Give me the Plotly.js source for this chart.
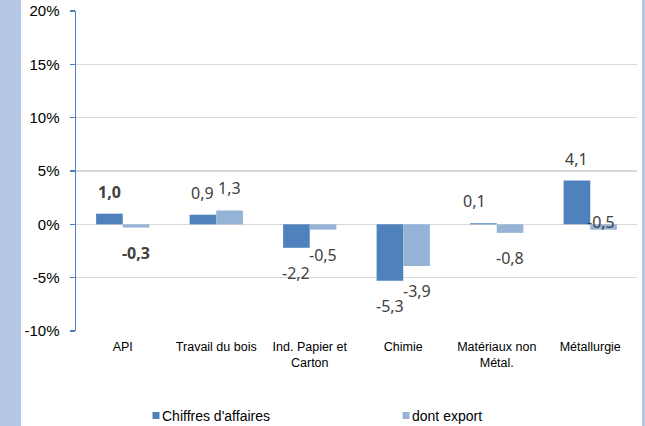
<!DOCTYPE html>
<html>
<head>
<meta charset="utf-8">
<script src="https://cdn.plot.ly/plotly-3.0.1.min.js"></script>
<style>
  html, body { margin: 0; padding: 0; }
  body { width: 645px; height: 426px; background: #b4c7e7; position: relative; overflow: hidden; }
  #chart { position: absolute; left: 21px; top: 0; width: 621px; height: 450px; background: #ffffff; }
  /* smaller legend swatches, placed close to their text */
  #chart .legendpoints path { transform: translate(34px, 0) scale(0.58); }
</style>
</head>
<body>
<div id="chart"></div>
<script>
// Sector categories
const categories = ["API", "Travail du bois", "Ind. Papier et<br>Carton", "Chimie", "Matériaux non<br>Métal.", "Métallurgie"];
// Variation (%) of turnover and of exports
const chiffres = [1.0, 0.9, -2.2, -5.3, 0.1, 4.1];
const exportVals = [-0.3, 1.3, -0.5, -3.9, -0.8, -0.5];
const seriesNames = ["Chiffres d'affaires", "dont export"];
const yTicks = [-10, -5, 0, 5, 10, 15, 20];
const yTickText = ["-10%", "-5%", "0%", "5%", "10%", "15%", "20%"];

const darkBlue = "#4f81bd";
const lightBlue = "#95b3d7";
const labelFont = { family: "Noto Sans, Open Sans, sans-serif", size: 16, color: "#404040" };

const traces = [
  { type: "bar", name: seriesNames[0], x: categories, y: chiffres, marker: { color: darkBlue }, hoverinfo: "none" },
  { type: "bar", name: seriesNames[1], x: categories, y: exportVals, marker: { color: lightBlue }, hoverinfo: "none" }
];

// Data labels: the first category uses bold labels
const fmt = v => v.toFixed(1).replace(".", ",");
const annotations = [];
[chiffres, exportVals].forEach((vals, s) => {
  vals.forEach((v, i) => {
    let xshift = s === 0 ? -13.4 : 13.4;
    let yshift = v >= 0 ? 22 : -25;
    if (s === 0 && i === 4) xshift = -22;          // small positive bar label sits left
    if (s === 1 && i === 5) { xshift = 11; yshift = 8; } // label overlapping the bar end
    const txt = fmt(v);
    annotations.push({
      x: categories[i], y: v, xref: "x", yref: "y",
      text: i === 0 ? "<b>" + txt + "</b>" : txt,
      showarrow: false, xshift: xshift, yshift: yshift,
      xanchor: "center", yanchor: "middle",
      font: labelFont
    });
  });
});

const layout = {
  width: 621, height: 450,
  margin: { l: 55, r: 5, t: 11, b: 119 },
  paper_bgcolor: "#ffffff", plot_bgcolor: "#ffffff",
  barmode: "group", bargap: 0.43, bargroupgap: 0,
  showlegend: true,
  legend: {
    orientation: "h", x: 0.082, xanchor: "left", y: -0.215, yanchor: "top",
    entrywidth: 205, entrywidthmode: "pixels",
    font: { family: "Liberation Sans, Arial, sans-serif", size: 14, color: "#000000" },
    itemwidth: 30, traceorder: "normal"
  },
  xaxis: {
    type: "category", showgrid: false, showline: false, zeroline: false,
    ticks: "", tickfont: { family: "Liberation Sans, Arial, sans-serif", size: 12.5, color: "#000000" },
    ticklabelstandoff: 6, fixedrange: true
  },
  yaxis: {
    range: [-10, 20], tickvals: yTicks, ticktext: yTickText,
    showgrid: true, gridcolor: "#d9d9d9", gridwidth: 1.5,
    zeroline: true, zerolinecolor: "#d9d9d9", zerolinewidth: 1.5,
    showline: true, linecolor: darkBlue, linewidth: 1.5,
    ticks: "outside", ticklen: 5, tickcolor: darkBlue, tickwidth: 1.5,
    ticklabelstandoff: 7,
    tickfont: { family: "Liberation Sans, Arial, sans-serif", size: 15, color: "#000000" },
    fixedrange: true
  },
  annotations: annotations
};

Plotly.newPlot("chart", traces, layout, { displayModeBar: false, staticPlot: true });
</script>
</body>
</html>
